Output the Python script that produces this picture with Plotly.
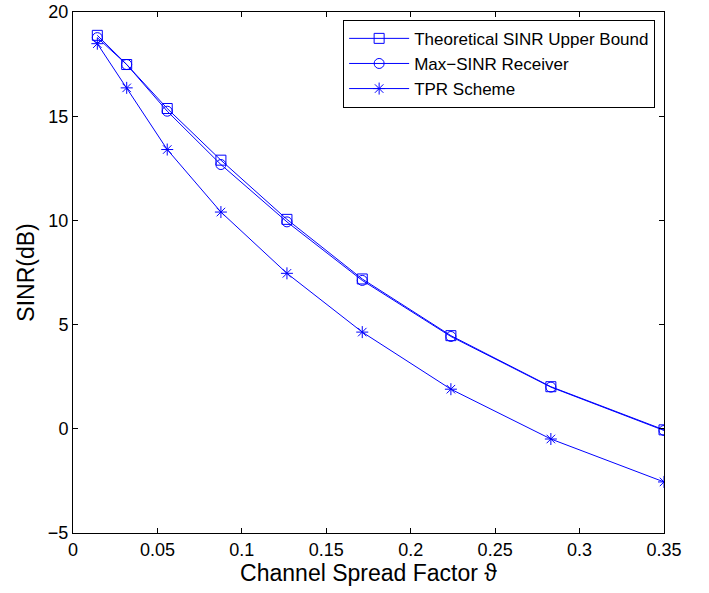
import plotly.graph_objects as go

# channel spread factor values
spread = [0.0144, 0.0318, 0.0558, 0.0876, 0.1267, 0.1713, 0.2238, 0.283, 0.35]

# SINR (dB) for each scheme
upper_bound = [18.88, 17.48, 15.37, 12.89, 10.05, 7.19, 4.47, 2.02, -0.05]
max_sinr = [18.77, 17.48, 15.24, 12.68, 9.93, 7.12, 4.43, 2.00, -0.08]
tpr = [18.48, 16.36, 13.40, 10.40, 7.46, 4.64, 1.90, -0.49, -2.55]

names = ["Theoretical SINR Upper Bound", "Max\u2212SINR Receiver", "TPR Scheme"]
symbols = ["square-open", "circle-open", "asterisk-open"]

fig = go.Figure()
for ys, nm, sym in zip([upper_bound, max_sinr, tpr], names, symbols):
    fig.add_trace(go.Scatter(
        x=spread, y=ys, name=nm, mode="lines+markers",
        line=dict(color="#0000ff", width=1),
        marker=dict(symbol=sym, size=10, color="#0000ff", line=dict(width=1, color="#0000ff"))))

fnt = "Liberation Sans, Arial, sans-serif"
axis_common = dict(showline=True, linecolor="black", linewidth=1, mirror="ticks",
                   ticks="inside", ticklen=5, tickcolor="black", showgrid=False,
                   zeroline=False, automargin=False,
                   tickfont=dict(family=fnt, size=18, color="black"))

fig.update_xaxes(range=[0, 0.35], tickvals=[0, 0.05, 0.1, 0.15, 0.2, 0.25, 0.3, 0.35],
                 ticktext=["0", "0.05", "0.1", "0.15", "0.2", "0.25", "0.3", "0.35"],
                 title=dict(text="Channel Spread Factor \u03d1", font=dict(family=fnt, size=23, color="black"),
                            standoff=2),
                 **axis_common)
fig.update_yaxes(range=[-5, 20], tickvals=[-5, 0, 5, 10, 15, 20],
                 ticktext=["\u22125", "0", "5", "10", "15", "20"],
                 title=dict(text="SINR(dB)", font=dict(family=fnt, size=23, color="black"), standoff=6),
                 **axis_common)

fig.update_layout(
    width=709, height=593,
    margin=dict(l=73, r=45, t=12, b=60),
    paper_bgcolor="white", plot_bgcolor="white",
    font=dict(family=fnt, color="black"),
    legend=dict(x=0.985, y=0.985, xanchor="right", yanchor="top",
                bordercolor="black", borderwidth=1, bgcolor="white",
                font=dict(family=fnt, size=17, color="black"),
                tracegroupgap=0, itemwidth=60),
    showlegend=True,
)

# drop the default body margin so the figure sits at the page corner
fig.write_html("out.html", config={"displayModeBar": False},
               post_script="document.body.style.margin='0';")
